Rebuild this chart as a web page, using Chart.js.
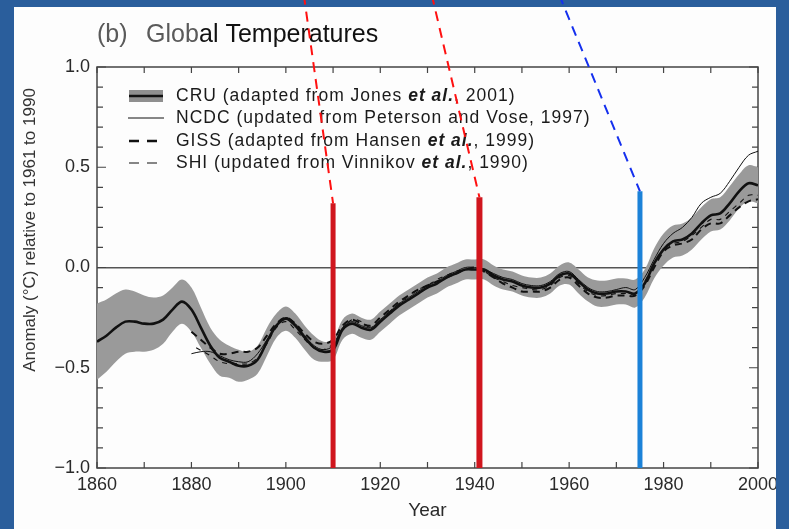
<!DOCTYPE html>
<html>
<head>
<meta charset="utf-8">
<script src="https://cdn.jsdelivr.net/npm/chart.js@4.4.1/dist/chart.umd.min.js"></script>
<style>
  html, body { margin: 0; padding: 0; background: #2a5e9c; }
  #wrap { width: 789px; height: 529px; }
</style>
</head>
<body>
<div id="wrap"><canvas id="grafico" width="789" height="529"></canvas></div>
<script>
// CRU global mean (smoothed) and half width of its uncertainty band
const cruYears = [1860,1862,1864,1866,1868,1870,1872,1874,1876,1878,1880,1882,1884,1886,1888,1890,1892,1894,1896,1898,
  1900,1902,1904,1906,1908,1910,1912,1914,1916,1918,1920,1922,1924,1926,1928,1930,1932,1934,1936,1938,
  1940,1942,1944,1946,1948,1950,1952,1954,1956,1958,1960,1962,1964,1966,1968,1970,1972,1974,1976,1978,
  1980,1982,1984,1986,1988,1990,1992,1994,1996,1998,2000];
const cruValues = [-0.37,-0.34,-0.30,-0.27,-0.27,-0.28,-0.28,-0.26,-0.21,-0.17,-0.21,-0.30,-0.39,-0.45,-0.47,-0.49,-0.49,-0.46,-0.37,-0.29,
  -0.255,-0.29,-0.35,-0.40,-0.42,-0.41,-0.31,-0.28,-0.30,-0.31,-0.27,-0.23,-0.19,-0.16,-0.13,-0.10,-0.08,-0.05,-0.03,-0.01,
  -0.01,-0.01,-0.04,-0.06,-0.07,-0.09,-0.10,-0.10,-0.08,-0.04,-0.03,-0.07,-0.11,-0.13,-0.13,-0.12,-0.12,-0.13,-0.08,0.02,
  0.09,0.13,0.14,0.17,0.22,0.26,0.27,0.32,0.38,0.42,0.41];
const cruHalfBand = [0.19,0.18,0.17,0.16,0.15,0.14,0.13,0.12,0.11,0.11,0.11,0.10,0.09,0.09,0.08,0.08,0.07,0.07,0.07,0.06,
  0.06,0.06,0.06,0.06,0.05,0.05,0.05,0.05,0.05,0.05,0.05,0.05,0.05,0.05,0.05,0.05,0.05,0.05,0.05,0.05,
  0.05,0.05,0.05,0.05,0.05,0.05,0.05,0.05,0.05,0.05,0.055,0.06,0.06,0.065,0.065,0.065,0.065,0.07,0.07,0.075,
  0.08,0.08,0.08,0.08,0.08,0.08,0.08,0.085,0.085,0.09,0.09];

const ncdcYears = [1880,1882,1884,1886,1888,1890,1892,1894,1896,1898,1900,1902,1904,1906,1908,1910,1912,1914,1916,1918,
  1920,1922,1924,1926,1928,1930,1932,1934,1936,1938,1940,1942,1944,1946,1948,1950,1952,1954,1956,1958,
  1960,1962,1964,1966,1968,1970,1972,1974,1976,1978,1980,1982,1984,1986,1988,1990,1992,1994,1996,1998,2000];
const ncdcValues = [-0.43,-0.42,-0.42,-0.44,-0.46,-0.47,-0.47,-0.43,-0.36,-0.29,-0.25,-0.28,-0.34,-0.39,-0.41,-0.39,-0.30,-0.27,-0.29,-0.30,
  -0.26,-0.22,-0.18,-0.15,-0.12,-0.09,-0.07,-0.04,-0.02,0.00,0.00,-0.01,-0.03,-0.05,-0.06,-0.08,-0.09,-0.09,-0.07,-0.03,
  -0.02,-0.06,-0.10,-0.12,-0.12,-0.11,-0.10,-0.11,-0.05,0.04,0.12,0.17,0.20,0.25,0.32,0.35,0.37,0.43,0.50,0.56,0.58];

const gissYears = ncdcYears;
const gissValues = [-0.32,-0.36,-0.40,-0.43,-0.43,-0.42,-0.42,-0.40,-0.34,-0.28,-0.25,-0.28,-0.33,-0.37,-0.38,-0.36,-0.29,-0.26,-0.28,-0.29,
  -0.25,-0.21,-0.17,-0.14,-0.11,-0.09,-0.07,-0.05,-0.03,-0.01,0.00,-0.02,-0.05,-0.08,-0.10,-0.12,-0.12,-0.12,-0.10,-0.06,
  -0.05,-0.09,-0.13,-0.15,-0.15,-0.14,-0.14,-0.14,-0.09,0.00,0.08,0.11,0.12,0.14,0.19,0.22,0.22,0.26,0.30,0.33,0.34];

const shiYears = [1881,1884,1886,1888,1890,1892,1894,1896,1898,1900,1902,1904,1906,1908,1910,1912,1914,1916,1918,
  1920,1922,1924,1926,1928,1930,1932,1934,1936,1938,1940,1942,1944,1946,1948,1950,1952,1954,1956,1958,
  1960,1962,1964,1966,1968,1970,1972,1974,1976,1978,1980,1982,1984,1986,1988,1990,1992,1994,1996,1998,2000];
const shiValues = [-0.40,-0.44,-0.47,-0.48,-0.48,-0.48,-0.45,-0.38,-0.30,-0.27,-0.31,-0.36,-0.40,-0.41,-0.38,-0.31,-0.26,-0.27,-0.30,
  -0.27,-0.22,-0.18,-0.14,-0.11,-0.09,-0.06,-0.04,-0.02,-0.01,-0.01,-0.02,-0.05,-0.07,-0.09,-0.10,-0.11,-0.11,-0.09,-0.05,
  -0.04,-0.08,-0.12,-0.14,-0.14,-0.13,-0.13,-0.13,-0.07,0.02,0.09,0.12,0.13,0.16,0.20,0.24,0.24,0.28,0.32,0.36,0.36];

// marker bars (year, top value) and the dashed pointers above them (start year, start value)
const markerYears = [1910, 1941, 1975];
const markerTops = [0.32, 0.35, 0.38];
const markerColors = ['#d0161e', '#d0161e', '#1c82d8'];
const markerWidths = [5, 6, 5];
const pointerStartYears = [1903.8, 1930.9, 1957.9];
const pointerStartValue = 1.36;
const pointerColors = ['#ff1010', '#ff1010', '#1530ee'];

const xTickLabels = [1860, 1880, 1900, 1920, 1940, 1960, 1980, 2000];
const yTickLabels = [-1.0, -0.5, 0.0, 0.5, 1.0];

const legendRows = [
  [['CRU (adapted from Jones ', false], ['et al.', true], [', 2001)', false]],
  [['NCDC (updated from Peterson and Vose, 1997)', false]],
  [['GISS (adapted from Hansen ', false], ['et al.', true], [', 1999)', false]],
  [['SHI (updated from Vinnikov ', false], ['et al.', true], [', 1990)', false]]
];

const pts = (xs, ys) => xs.map((x, i) => ({ x: x, y: ys[i] }));

const marcoPlugin = {
  id: 'marco',
  beforeDraw(chart) {
    const c = chart.ctx;
    c.save();
    c.fillStyle = '#fdfdfd';
    c.fillRect(0, 0, chart.width, chart.height);
    // titulo
    c.textBaseline = 'alphabetic';
    c.fillStyle = '#5a5a5a';
    c.font = '25px "Liberation Sans", Arial, sans-serif';
    c.fillText('(b)', 97, 42);
    c.fillText('Glob', 146, 42);
    c.fillStyle = '#111';
    c.fillText('al Temperatures', 199, 42);
    // titulo eje y
    c.translate(30, 230);
    c.rotate(-Math.PI / 2);
    c.textAlign = 'center';
    c.textBaseline = 'middle';
    c.fillStyle = '#333';
    c.font = '17px "Liberation Sans", Arial, sans-serif';
    c.fillText('Anomaly (\u00B0C) relative to 1961 to 1990', 0, 0);
    c.restore();
  },
  beforeDatasetsDraw(chart) {
    const c = chart.ctx;
    const a = chart.chartArea;
    const xs = chart.scales.x, ys = chart.scales.y;
    c.save();
    c.strokeStyle = '#444';
    c.lineWidth = 1.5;
    c.strokeRect(a.left, a.top, a.right - a.left, a.bottom - a.top);
    c.lineWidth = 1.2;
    c.beginPath();
    for (let yr = 1860; yr <= 2000; yr += 10) {
      const px = xs.getPixelForValue(yr);
      c.moveTo(px, a.bottom); c.lineTo(px, a.bottom - 6);
      c.moveTo(px, a.top); c.lineTo(px, a.top + 6);
    }
    for (let k = -10; k <= 10; k++) {
      const py = ys.getPixelForValue(k / 10);
      const len = k % 5 === 0 ? 9 : 6;
      c.moveTo(a.left, py); c.lineTo(a.left + len, py);
      c.moveTo(a.right, py); c.lineTo(a.right - len, py);
    }
    c.stroke();
    // leyenda
    const rowY = [96, 118, 141, 163];
    c.textBaseline = 'middle';
    if ('letterSpacing' in c) c.letterSpacing = '1px';
    rowY.forEach((y, i) => {
      c.strokeStyle = '#111';
      if (i === 0) {
        c.fillStyle = '#8f8f8f';
        c.fillRect(129, y - 6, 34, 12);
        c.lineWidth = 2.5; c.setLineDash([]);
        c.beginPath(); c.moveTo(129, y); c.lineTo(163, y); c.stroke();
      } else if (i === 1) {
        c.lineWidth = 1; c.setLineDash([]);
        c.beginPath(); c.moveTo(128, y); c.lineTo(164, y); c.stroke();
      } else {
        c.lineWidth = i === 2 ? 2.5 : 1.2;
        c.setLineDash([10, 8]);
        c.beginPath(); c.moveTo(129, y); c.lineTo(158, y); c.stroke();
      }
      c.setLineDash([]);
      let x = 176;
      legendRows[i].forEach(([t, it]) => {
        c.font = (it ? 'italic bold ' : '') + '17.5px "Liberation Sans", Arial, sans-serif';
        c.fillStyle = '#1a1a1a';
        c.fillText(t, x, y);
        x += c.measureText(t).width;
      });
    });
    if ('letterSpacing' in c) c.letterSpacing = '0px';
    // franja azul del marco
    c.fillStyle = '#2a5e9c';
    c.fillRect(0, 0, chart.width, 7);
    c.fillRect(0, 0, 14, chart.height);
    c.fillRect(776, 0, chart.width - 776, chart.height);
    c.restore();
  }
};

const datasets = [
  { data: pts(cruYears, cruValues.map((v, i) => v - cruHalfBand[i])), order: 6, borderWidth: 0, pointRadius: 0, fill: false, tension: 0.35 },
  { data: pts(cruYears, cruValues.map((v, i) => v + cruHalfBand[i])), order: 5, borderWidth: 0, pointRadius: 0, fill: '-1', backgroundColor: '#9a9a9a', tension: 0.35 },
  { data: pts(ncdcYears, ncdcValues), order: 4, borderColor: '#111', borderWidth: 1, pointRadius: 0, tension: 0.35 },
  { data: pts(shiYears, shiValues), order: 3, borderColor: '#111', borderWidth: 1.1, borderDash: [5, 5], pointRadius: 0, tension: 0.35 },
  { data: pts(gissYears, gissValues), order: 2, borderColor: '#111', borderWidth: 2, borderDash: [7, 5], pointRadius: 0, tension: 0.35 },
  { data: pts(cruYears, cruValues), order: 1, borderColor: '#111', borderWidth: 2.6, pointRadius: 0, tension: 0.35 }
];

markerYears.forEach((yr, i) => {
  datasets.push({
    data: [{ x: yr, y: -1 }, { x: yr, y: markerTops[i] }], order: 0,
    borderColor: markerColors[i], borderWidth: markerWidths[i], pointRadius: 0, borderCapStyle: 'butt'
  });
  datasets.push({
    data: [{ x: pointerStartYears[i], y: pointerStartValue }, { x: yr, y: markerTops[i] }], order: 0,
    borderColor: pointerColors[i], borderWidth: 2, borderDash: [10, 7], pointRadius: 0, clip: false
  });
});

new Chart(document.getElementById('grafico').getContext('2d'), {
  type: 'line',
  data: { datasets: datasets },
  options: {
    responsive: false,
    animation: false,
    devicePixelRatio: 1,
    layout: { padding: { top: 67, right: 31, left: 0, bottom: 0 } },
    plugins: { legend: { display: false }, tooltip: { enabled: false }, title: { display: false } },
    scales: {
      x: {
        type: 'linear', min: 1860, max: 2000,
        afterBuildTicks: s => { s.ticks = xTickLabels.map(v => ({ value: v })); },
        afterFit: s => { s.height = 61; },
        grid: { display: false, drawTicks: false },
        border: { display: false },
        ticks: { color: '#2a2a2a', padding: 6, maxRotation: 0, autoSkip: false,
          callback: v => String(v),
          font: { family: '"Liberation Sans", Arial, sans-serif', size: 18 } },
        title: { display: true, text: 'Year', color: '#2a2a2a', padding: { top: 2, bottom: 7 },
          font: { family: '"Liberation Sans", Arial, sans-serif', size: 19 } }
      },
      y: {
        min: -1, max: 1,
        afterBuildTicks: s => { s.ticks = yTickLabels.map(v => ({ value: v })); },
        afterFit: s => { s.width = 97; },
        grid: { drawTicks: false, lineWidth: 1.5, color: c => c.tick && c.tick.value === 0 ? '#555' : 'rgba(0,0,0,0)' },
        border: { display: false },
        ticks: { color: '#2a2a2a', padding: 7,
          callback: v => v.toFixed(1).replace('-', '\u2212'),
          font: { family: '"Liberation Sans", Arial, sans-serif', size: 18 } }
      }
    }
  },
  plugins: [marcoPlugin]
});
</script>
</body>
</html>
